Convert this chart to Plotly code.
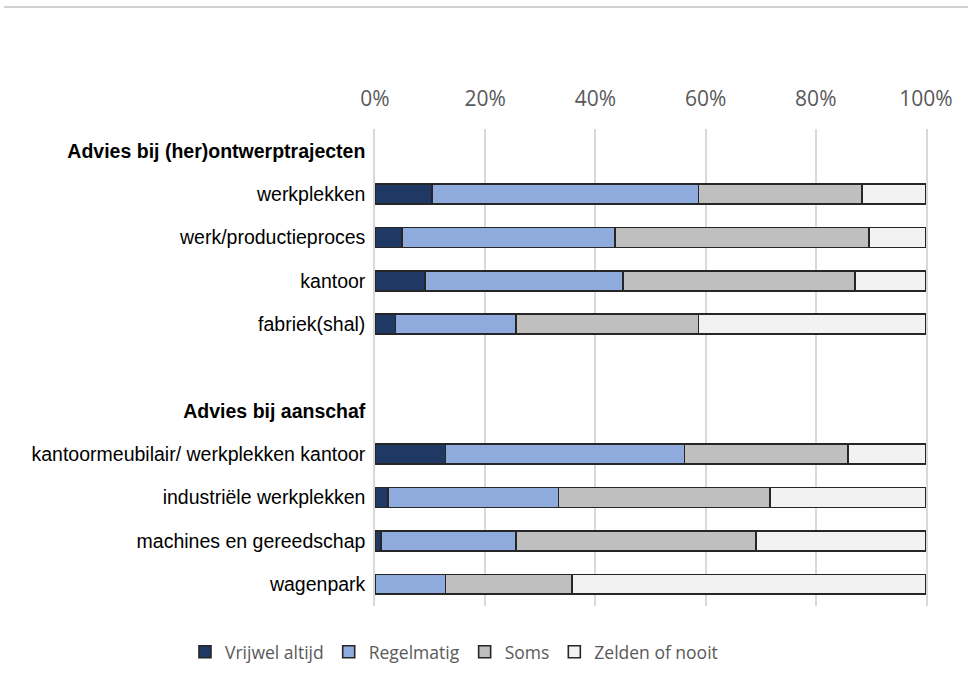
import plotly.graph_objects as go

categories = [
    "<b>Advies bij (her)ontwerptrajecten</b>",
    "werkplekken",
    "werk/productieproces",
    "kantoor",
    "fabriek(shal)",
    " ",
    "<b>Advies bij aanschaf</b>",
    "kantoormeubilair/ werkplekken kantoor",
    "industriële werkplekken",
    "machines en gereedschap",
    "wagenpark",
]

vrijwel_altijd = [None, 10.3, 4.9, 9.1, 3.7, None, None, 12.8, 2.4, 1.1, 0.0]
regelmatig     = [None, 48.4, 38.7, 35.9, 21.9, None, None, 43.4, 30.9, 24.5, 12.8]
soms           = [None, 29.7, 46.1, 42.1, 33.1, None, None, 29.6, 38.4, 43.6, 22.9]
zelden         = [None, 11.6, 10.3, 12.9, 41.3, None, None, 14.2, 28.3, 30.8, 64.3]

series = [
    ("Vrijwel altijd", vrijwel_altijd, "#203864"),
    ("Regelmatig", regelmatig, "#8FAADC"),
    ("Soms", soms, "#BFBFBF"),
    ("Zelden of nooit", zelden, "#F2F2F2"),
]

tick_vals = [0, 20, 40, 60, 80, 100]
tick_text = ["0%", "20%", "40%", "60%", "80%", "100%"]

fig = go.Figure()
for name, vals, color in series:
    fig.add_trace(go.Bar(
        y=categories, x=vals, name=name, orientation="h",
        marker=dict(color=color, line=dict(color="#262626", width=1.6)),
        width=0.46,
    ))

fig.update_layout(
    barmode="stack",
    width=968, height=679,
    margin=dict(l=375, r=42, t=129, b=73),
    paper_bgcolor="white", plot_bgcolor="white",
    font=dict(family="Liberation Sans, Arial, sans-serif", color="#000000"),
    legend=dict(
        orientation="h", xref="container", yref="container",
        x=0.469, xanchor="center", y=0.04, yanchor="middle",
        font=dict(family="Open Sans, sans-serif", size=17.5, color="#595959"),
        traceorder="normal", itemwidth=30,
    ),
    showlegend=True,
    shapes=[dict(type="line", xref="paper", yref="paper",
                 x0=-371/551, x1=593/551, y0=1 + (129 - 7) / 477, y1=1 + (129 - 7) / 477,
                 line=dict(color="#D0D0D0", width=2))],
)
fig.update_xaxes(
    range=[0, 100], side="top", tickvals=tick_vals, ticktext=tick_text,
    showgrid=True, gridcolor="#D9D9D9", gridwidth=1.5, zeroline=False,
    showline=False, ticklabelstandoff=18,
    tickfont=dict(family="Open Sans, sans-serif", size=21, color="#595959"),
)
fig.update_yaxes(
    type="category", categoryorder="array", categoryarray=categories,
    autorange="reversed", showgrid=False, zeroline=False,
    showline=True, mirror=True, linecolor="#D9D9D9", linewidth=1.5,
    ticklabelstandoff=4,
    tickfont=dict(family="Liberation Sans, Arial, sans-serif", size=19.5, color="#000000"),
)

fig.write_html("out.html")
